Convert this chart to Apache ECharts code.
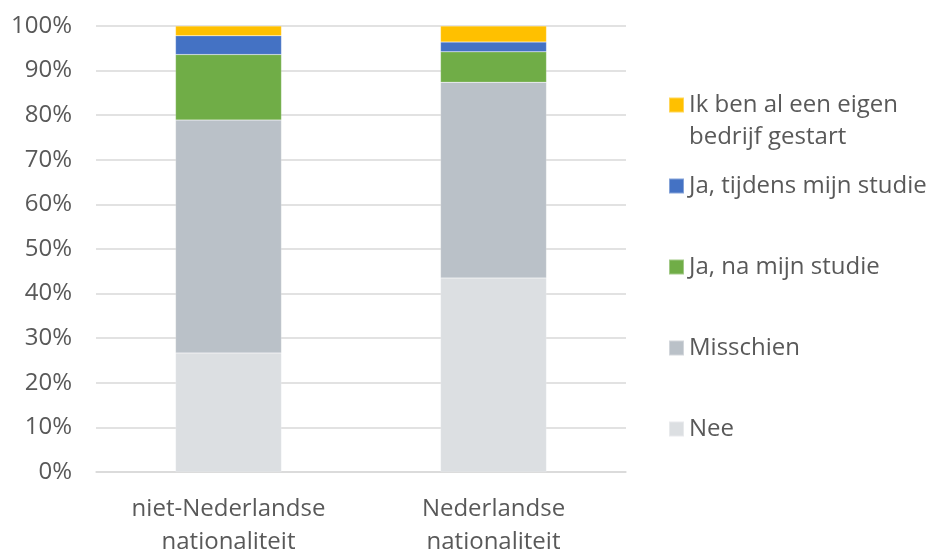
<!DOCTYPE html>
<html>
<head>
<meta charset="utf-8">
<script src="https://cdn.jsdelivr.net/npm/echarts@6/dist/echarts.min.js"></script>
<style>
  html, body { margin: 0; padding: 0; background: #fff; }
  #chart { width: 927px; height: 550px; }
</style>
</head>
<body>
<div id="chart"></div>
<script>
// categorieën en waarden (percentages)
const categories = ['niet-Nederlandse\nnationaliteit', 'Nederlandse\nnationaliteit'];
const seriesNames = ['Nee', 'Misschien', 'Ja, na mijn studie', 'Ja, tijdens mijn studie', 'Ik ben al een eigen bedrijf gestart'];
const nee = [26.7, 43.5];
const misschien = [52.2, 43.9];
const jaNa = [14.7, 6.8];
const jaTijdens = [4.2, 2.2];
const eigenBedrijf = [2.2, 3.6];
const yTicks = [0, 10, 20, 30, 40, 50, 60, 70, 80, 90, 100];

const colors = ['#DCDFE2', '#BAC1C8', '#70AD47', '#4472C4', '#FFC000'];
const values = [nee, misschien, jaNa, jaTijdens, eigenBedrijf];

let myChart = echarts.init(document.getElementById('chart'));

const font = '"Open Sans", sans-serif';
const textColor = '#595959';
const lh = 32;

// legenda: één per item zodat de posities vast liggen
const legendTops = [105 - 1.5 * lh, 186 - lh / 2, 267 - lh / 2, 348 - lh / 2, 429 - lh / 2];
const legendOrder = [4, 3, 2, 1, 0];
let legends = legendOrder.map((idx, i) => ({
  orient: 'vertical',
  left: 668,
  top: legendTops[i],
  padding: 0,
  data: [seriesNames[idx]],
  itemWidth: 15,
  itemHeight: 15,
  itemGap: 0,
  icon: 'rect',
  selectedMode: false,
  formatter: function (name) {
    if (name === 'Ik ben al een eigen bedrijf gestart') {
      // lege eerste regel zodat het icoon naast de eerste tekstregel staat
      return '\nIk ben al een eigen\nbedrijf gestart';
    }
    return name;
  },
  textStyle: {
    fontFamily: font,
    fontSize: 24,
    color: textColor,
    lineHeight: lh
  }
}));

let options = {
  backgroundColor: '#fff',
  animation: false,
  color: colors,
  grid: {
    left: 96,
    right: 301,
    top: 26,
    bottom: 78,
    outerBoundsMode: 'none',
    containLabel: false
  },
  legend: legends,
  xAxis: {
    type: 'category',
    data: categories,
    axisLine: { show: true, lineStyle: { color: '#D9D9D9', width: 1.5 } },
    axisTick: { show: false },
    axisLabel: {
      fontFamily: font,
      fontSize: 24,
      color: textColor,
      lineHeight: 33,
      margin: 21,
      interval: 0
    }
  },
  yAxis: {
    type: 'value',
    min: 0,
    max: 100,
    interval: 10,
    axisLine: { show: false },
    axisTick: { show: false },
    splitLine: { lineStyle: { color: '#D9D9D9', width: 1.5 } },
    axisLabel: {
      fontFamily: font,
      fontSize: 24,
      color: textColor,
      margin: 24,
      formatter: function (v) {
        return yTicks.indexOf(v) >= 0 ? v + '%' : '';
      }
    }
  },
  series: values.map((arr, i) => ({
    name: seriesNames[i],
    type: 'bar',
    stack: 'totaal',
    barWidth: '40%',
    data: arr,
    itemStyle: {
      color: colors[i],
      borderColor: 'rgba(255,255,255,0.35)',
      borderWidth: 0.5
    }
  }))
};

myChart.setOption(options);
</script>
</body>
</html>
